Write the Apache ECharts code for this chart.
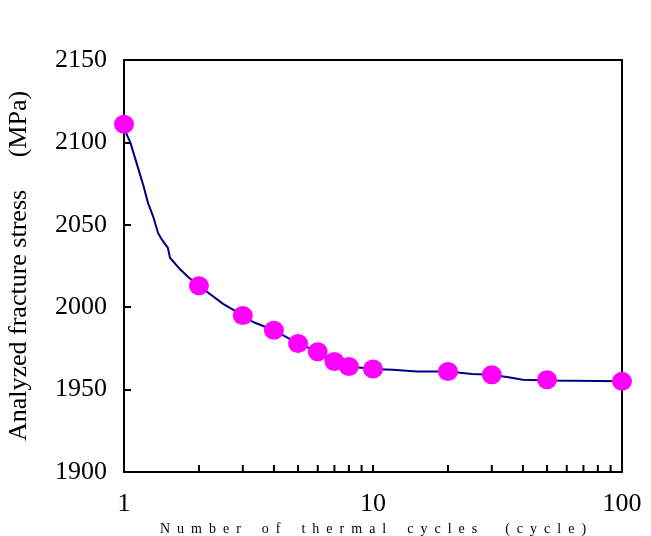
<!DOCTYPE html>
<html>
<head>
<meta charset="utf-8">
<script src="https://cdn.jsdelivr.net/npm/echarts@6/dist/echarts.min.js"></script>
<style>
  html, body { margin: 0; padding: 0; background: #fff; }
  #chart { width: 651px; height: 536px; }
</style>
</head>
<body>
<div id="chart"></div>
<script>
// measured points (cycles, MPa)
const cycles = [1, 2, 3, 4, 5, 6, 7, 8, 10, 20, 30, 50, 100];
const stress = [2111, 2013, 1995, 1986, 1978, 1973, 1967, 1964, 1962.5, 1961, 1959, 1956, 1955];

// fitted curve
const curveX = [1, 1.01, 1.06, 1.19, 1.25, 1.31, 1.37, 1.42, 1.5, 1.53, 1.68, 1.82, 2, 2.5, 3, 3.3, 4, 5, 6, 7, 8, 10, 12, 15, 17, 20, 25, 30, 35, 40, 50, 100];
const curveY = [2111, 2107, 2100, 2075, 2063, 2055, 2045, 2041, 2036, 2030, 2023, 2018, 2013, 2002, 1995, 1991, 1986, 1978, 1973, 1967, 1964, 1962.5, 1962, 1961, 1961, 1961, 1959.5, 1959, 1957.5, 1956, 1955.5, 1955];

// minor ticks of the log axis
const minorTicks = [2, 3, 4, 5, 6, 7, 8, 9, 20, 30, 40, 50, 60, 70, 80, 90];

const serif = '"Liberation Serif", "DejaVu Serif", serif';

// wide letter spacing like the original x title
function spread(words) {
    return words.map(w => w.split('').join('  ')).join('      ');
}
const xTitle = spread(['Number', 'of', 'thermal', 'cycles']) + '        ' + spread(['(cycle)']);
const yTitle = 'Analyzed fracture stress     (MPa)';

const chart = echarts.init(document.getElementById('chart'));

const option = {
    animation: false,
    grid: {
        left: 124,
        right: 29,
        top: 60,
        bottom: 64,
        containLabel: false,
        outerBoundsMode: 'none',
        show: true,
        borderColor: '#000',
        borderWidth: 2
    },
    xAxis: {
        type: 'log',
        logBase: 10,
        min: 1,
        max: 100,
        name: xTitle,
        nameLocation: 'middle',
        nameGap: 41,
        nameTextStyle: { fontFamily: serif, fontSize: 14, color: '#000' },
        axisLine: { lineStyle: { color: '#000', width: 2 } },
        axisTick: { inside: true, length: 7, lineStyle: { color: '#000', width: 2 } },
        axisLabel: { fontFamily: serif, fontSize: 26, color: '#000', margin: 19 },
        splitLine: { show: false }
    },
    yAxis: {
        type: 'value',
        min: 1900,
        max: 2150,
        interval: 50,
        name: yTitle,
        nameLocation: 'middle',
        nameGap: 92,
        nameTextStyle: { fontFamily: serif, fontSize: 26, color: '#000' },
        axisLine: { lineStyle: { color: '#000', width: 2 } },
        axisTick: { inside: true, length: 7, lineStyle: { color: '#000', width: 2 } },
        axisLabel: { fontFamily: serif, fontSize: 26, color: '#000', margin: 17, formatter: v => String(v) },
        splitLine: { show: false }
    },
    series: [
        {
            type: 'custom',
            silent: true,
            data: minorTicks.map(v => [v, 1900]),
            renderItem: function (params, api) {
                const p = api.coord([api.value(0), 1900]);
                return {
                    type: 'line',
                    shape: { x1: p[0], y1: p[1], x2: p[0], y2: p[1] - 7 },
                    style: { stroke: '#000', lineWidth: 2 }
                };
            },
            z: 1
        },
        {
            type: 'line',
            data: curveX.map((x, i) => [x, curveY[i]]),
            showSymbol: false,
            symbol: 'none',
            lineStyle: { color: '#000080', width: 2 },
            z: 2
        },
        {
            type: 'scatter',
            data: cycles.map((x, i) => [x, stress[i]]),
            symbol: 'circle',
            symbolSize: [20, 19],
            itemStyle: { color: '#FF00FF', opacity: 1 },
            z: 3
        }
    ]
};

chart.setOption(option);
</script>
</body>
</html>
